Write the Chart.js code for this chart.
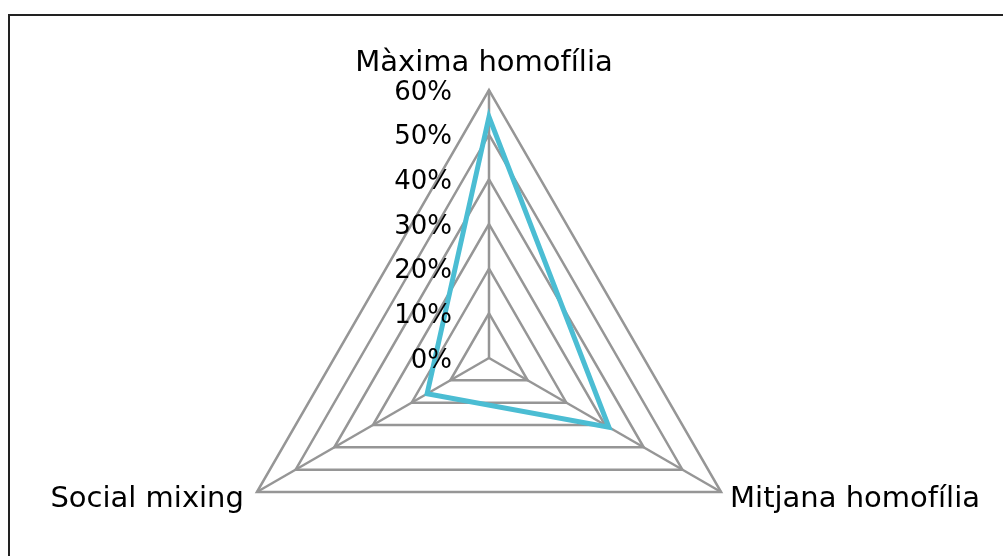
<!DOCTYPE html>
<html>
<head>
<meta charset="utf-8">
<script src="https://cdn.jsdelivr.net/npm/chart.js@4/dist/chart.umd.min.js"></script>
<style>
  html, body { margin: 0; padding: 0; background: #fff; overflow: hidden; width: 1003px; height: 556px; }
  #frame { position: absolute; left: 8px; top: 14px; width: 1100px; height: 700px; border: 2px solid #222; box-sizing: border-box; }
  #wrap { position: absolute; left: 0; top: 0; width: 1003px; height: 720px; }
</style>
</head>
<body>
<div id="frame"></div>
<div id="wrap"><canvas id="c"></canvas></div>
<script>
const categories = ["Màxima homofília", "Mitjana homofília", "Social mixing"];
const seriesValues = [54, 31, 16];
const tickValues = [0, 10, 20, 30, 40, 50, 60];
const tickLabels = ["0%", "10%", "20%", "30%", "40%", "50%", "60%"];

const FONT = '"DejaVu Sans", sans-serif';

const labelPlugin = {
  id: 'customLabels',
  afterDraw(chart) {
    const s = chart.scales.r;
    const ctx = chart.ctx;
    ctx.save();
    // tick labels
    ctx.font = '26px ' + FONT;
    ctx.fillStyle = '#000';
    ctx.textAlign = 'right';
    ctx.textBaseline = 'middle';
    tickValues.forEach((v, i) => {
      const d = s.getDistanceFromCenterForValue(v);
      ctx.fillText(tickLabels[i], s.xCenter - 37, s.yCenter - d + 3);
    });
    // category labels
    ctx.font = '29px ' + FONT;
    const R = s.drawingArea;
    categories.forEach((c, i) => {
      const p = s.getPointPosition(i, R);
      if (i === 0) {
        ctx.textAlign = 'center';
        ctx.fillText(c, p.x - 5, p.y - 27);
      } else if (i === 1) {
        ctx.textAlign = 'left';
        ctx.fillText(c, p.x + 9, p.y + 7);
      } else {
        ctx.textAlign = 'right';
        ctx.fillText(c, p.x - 13, p.y + 7);
      }
    });
    ctx.restore();
  }
};

new Chart(document.getElementById('c'), {
  type: 'radar',
  data: {
    labels: categories,
    datasets: [{
      data: seriesValues,
      borderColor: '#4BBDD3',
      borderWidth: 5,
      fill: false,
      pointRadius: 0,
      pointHoverRadius: 0,
      borderJoinStyle: 'miter',
      tension: 0
    }]
  },
  options: {
    responsive: true,
    maintainAspectRatio: false,
    animation: false,
    events: [],
    layout: { padding: { left: 221, right: 246, top: 90, bottom: 94 } },
    plugins: { legend: { display: false }, tooltip: { enabled: false } },
    scales: {
      r: {
        min: 0,
        max: 60,
        ticks: { stepSize: 10, display: false },
        grid: { color: '#969696', lineWidth: 2.5 },
        angleLines: { color: '#969696', lineWidth: 2.5 },
        pointLabels: { display: false }
      }
    }
  },
  plugins: [labelPlugin]
});
</script>
</body>
</html>
